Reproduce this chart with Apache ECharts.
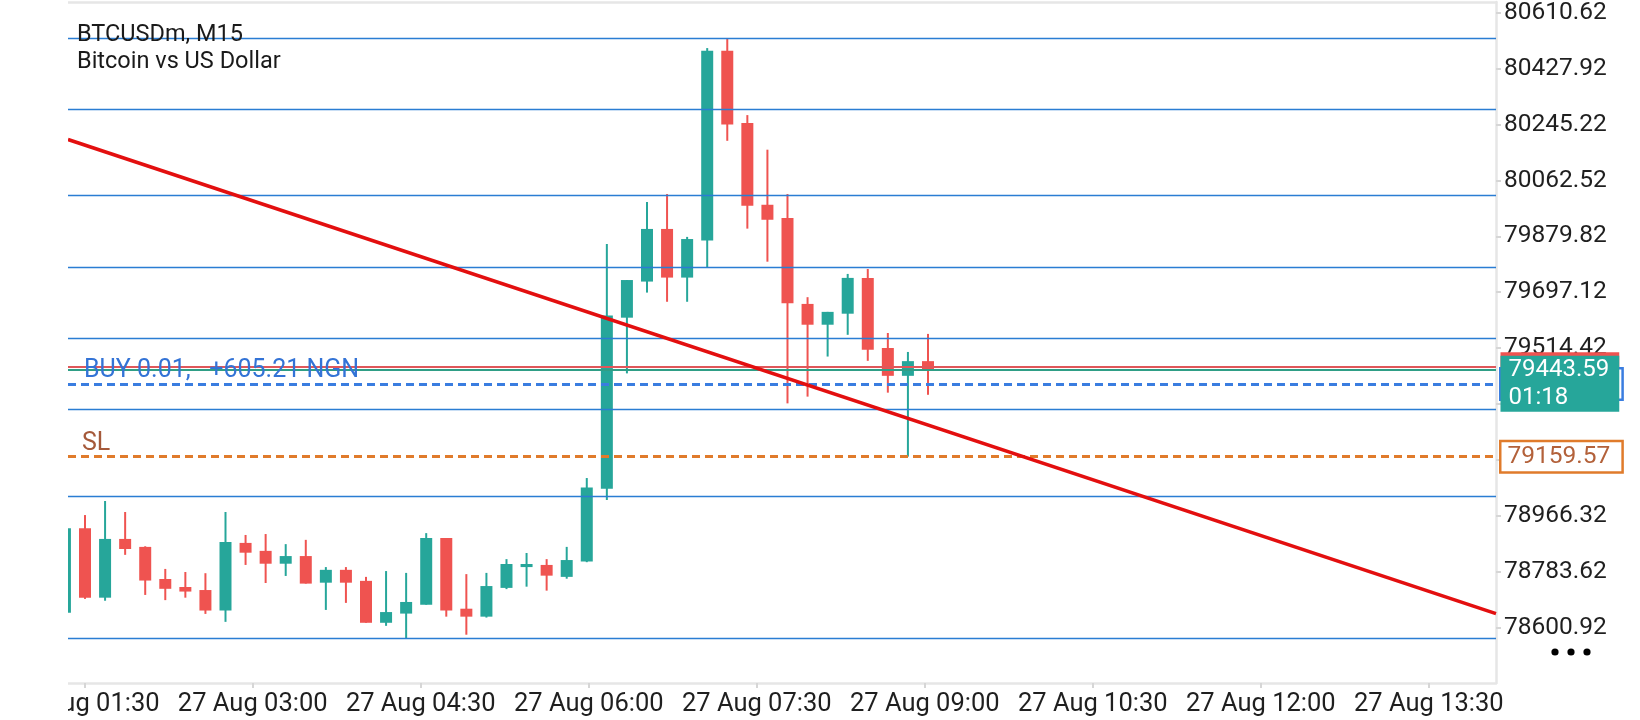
<!DOCTYPE html>
<html><head><meta charset="utf-8">
<script src="https://cdn.jsdelivr.net/npm/echarts@6/dist/echarts.min.js"></script>
<style>
html,body{margin:0;padding:0;background:#fff;overflow:hidden;width:1640px;height:720px}
#clip{position:absolute;left:68px;top:0;width:1572px;height:720px;overflow:hidden}
#chart{position:absolute;left:-68px;top:0;width:1640px;height:720px}
</style></head><body>
<div id="clip"><div id="chart"></div></div>
<script>
// ---- data ----
const symbolTitle = 'BTCUSDm, M15';
const symbolName = 'Bitcoin vs US Dollar';
const priceTicks = [78600.92, 78783.62, 78966.32, 79149.02, 79331.72, 79514.42, 79697.12, 79879.82, 80062.52, 80245.22, 80427.92, 80610.62];
const timeLabels = ['27 Aug 01:30', '27 Aug 03:00', '27 Aug 04:30', '27 Aug 06:00', '27 Aug 07:30', '27 Aug 09:00', '27 Aug 10:30', '27 Aug 12:00', '27 Aug 13:30'];
const firstCandle = -1; // bar number of the first (cut-off) candle
const candleOpen  = [78650, 78926, 78699, 78891, 78865, 78760, 78734, 78724, 78657, 78878, 78852, 78810, 78835, 78748, 78790, 78754, 78617, 78647, 78676, 78894, 78663, 78637, 78731, 78799, 78806, 78767, 78817, 79055, 79614, 79732, 79904, 79745, 79866, 80486, 80250, 79983, 79940, 79659, 79591, 79627, 79744, 79515, 79424, 79472];
const candleClose = [78926, 78699, 78891, 78858, 78755, 78728, 78719, 78657, 78881, 78846, 78810, 78835, 78745, 78790, 78748, 78617, 78652, 78685, 78894, 78657, 78637, 78737, 78809, 78809, 78771, 78822, 79059, 79621, 79737, 79904, 79745, 79871, 80486, 80245, 79980, 79934, 79661, 79591, 79633, 79744, 79509, 79424, 79472, 79443.59];
const candleLow   = [78640, 78695, 78689, 78839, 78708, 78691, 78699, 78646, 78620, 78806, 78747, 78770, 78745, 78659, 78682, 78617, 78607, 78566, 78676, 78637, 78578, 78634, 78727, 78735, 78722, 78761, 78815, 79018, 79432, 79696, 79666, 79666, 79779, 80192, 79905, 79797, 79334, 79356, 79487, 79558, 79473, 79369, 79160, 79362];
const candleHigh  = [78935, 78969, 79015, 78979, 78867, 78793, 78783, 78779, 78979, 78904, 78907, 78874, 78888, 78799, 78799, 78767, 78786, 78780, 78910, 78894, 78776, 78780, 78825, 78845, 78825, 78865, 79090, 79855, 79737, 79992, 80018, 79878, 80495, 80525, 80276, 80163, 80018, 79681, 79633, 79757, 79773, 79564, 79502, 79561];
const levelLines = [80526.9, 80295.9, 80013.9, 79778.6, 79546.6, 79314.6, 79030.3, 78566.3];
const trendBars  = [-0.847, 70.30];
const trendPrice = [80196, 78647];
const bidPrice = 79443.59;
const askPrice = 79453.80;
const entryPrice = 79397.30;
const slPrice = 79159.57;
const countdown = '01:18';
const positionText = 'BUY 0.01,   +605.21 NGN';
const slText = 'SL';

// ---- derived ----
const barMin = -0.847, barMax = 70.30;
const timeMinutes = timeLabels.map(s => { const t = s.slice(-5).split(':'); return (+t[0]) * 60 + (+t[1]); });
const candles = candleOpen.map((o, k) => [k + firstCandle, o, candleClose[k], candleLow[k], candleHigh[k]]);
const UP = '#26a69a', DOWN = '#ef5350';
const FONT = 'Roboto';

const chart = echarts.init(document.getElementById('chart'), null, {renderer: 'canvas'});
const boxLabel = (extra) => Object.assign({
  show: true, position: 'right', distance: 5, fontFamily: FONT, fontSize: 24.5,
  lineHeight: 25, padding: [2, 11, 2, 6]
}, extra);

chart.setOption({
  animation: false,
  textStyle: {fontFamily: FONT},
  title: {
    text: symbolTitle + '\n' + symbolName, left: 77, top: 21, padding: 0,
    textStyle: {fontSize: 23.5, lineHeight: 27.6, color: '#1a1a1a', fontWeight: 'normal', fontFamily: FONT}
  },
  grid: {left: 68, right: 144, top: 2, bottom: 37, containLabel: false, outerBoundsMode: 'none'},
  xAxis: [
    {type: 'value', min: barMin, max: barMax, position: 'top',
     axisLine: {show: true, onZero: false, lineStyle: {color: '#e6e6e6', width: 2.5}},
     axisTick: {show: false}, axisLabel: {show: false}, splitLine: {show: false}},
    {type: 'value', min: 81.05, max: 846.0, position: 'bottom',
     axisLine: {show: true, onZero: false, lineStyle: {color: '#e6e6e6', width: 2.5}},
     axisTick: {show: true, length: 5, customValues: timeMinutes, lineStyle: {color: '#d6d6d6', width: 2}},
     axisLabel: {show: true, customValues: timeMinutes, margin: 9, fontSize: 25.5, color: '#1f1f1f', fontFamily: FONT,
       formatter: v => { let b = 0; timeMinutes.forEach((m, k) => { if (Math.abs(m - v) < Math.abs(timeMinutes[b] - v)) b = k; }); return timeLabels[b]; }},
     splitLine: {show: false}}
  ],
  yAxis: {
    type: 'value', position: 'right', min: 78420.2, max: 80645.6, scale: true,
    axisLine: {show: true, onZero: false, lineStyle: {color: '#e6e6e6', width: 2.5}},
    axisTick: {show: true, length: 5, customValues: priceTicks, lineStyle: {color: '#d6d6d6', width: 2}},
    axisLabel: {show: true, customValues: priceTicks, margin: 8, fontSize: 24.5, color: '#1f1f1f', fontFamily: FONT,
      formatter: v => v.toFixed(2)},
    splitLine: {show: false}
  },
  series: [
    {
      type: 'custom', name: 'candles', xAxisIndex: 0, yAxisIndex: 0, clip: true, z: 2,
      encode: {x: 0, y: [1, 2, 3, 4]},
      data: candles,
      renderItem: (params, api) => {
        const x = api.value(0), o = api.value(1), c = api.value(2), l = api.value(3), h = api.value(4);
        const pO = api.coord([x, o]), pC = api.coord([x, c]), pL = api.coord([x, l]), pH = api.coord([x, h]);
        const color = c >= o ? UP : DOWN;
        const bw = 12;
        const top = Math.min(pO[1], pC[1]);
        const bh = Math.max(Math.abs(pO[1] - pC[1]), 2);
        return {type: 'group', children: [
          {type: 'rect', shape: {x: pH[0] - 1, y: pH[1], width: 2, height: pL[1] - pH[1]}, style: {fill: color}},
          {type: 'rect', shape: {x: pO[0] - bw / 2, y: top, width: bw, height: bh}, style: {fill: color}}
        ]};
      }
    },
    {
      type: 'line', name: 'trend', xAxisIndex: 0, yAxisIndex: 0, z: 4, clip: true,
      data: trendBars.map((b, k) => [b, trendPrice[k]]),
      symbol: 'none', lineStyle: {color: '#e30f0f', width: 3.6},
      markLine: {
        z: 3, silent: true, symbol: ['none', 'none'], animation: false, precision: 2,
        data: levelLines.map(v => ({yAxis: v, label: {show: false}, lineStyle: {color: '#2a7dd3', width: 1.4, type: 'solid'}}))
          .concat([
            {yAxis: askPrice, label: {show: false}, lineStyle: {color: '#e0575a', width: 2, type: 'solid'}},
            {yAxis: bidPrice, label: {show: false}, lineStyle: {color: '#2f9e86', width: 2, type: 'solid'}},
            {yAxis: entryPrice, lineStyle: {color: '#3a7de0', width: 3, type: [8, 5]},
             label: {show: true, position: 'insideStartTop', formatter: positionText, color: '#3373d6', fontSize: 25, fontFamily: FONT, distance: [16, 1]}},
            {yAxis: slPrice, lineStyle: {color: '#e07b2b', width: 3, type: [8, 5]},
             label: {show: true, position: 'insideStartTop', formatter: slText, color: '#a5593a', fontSize: 25, fontFamily: FONT, distance: [14, 0]}}
          ])
      }
    },
    {
      type: 'line', name: 'askLabel', xAxisIndex: 0, yAxisIndex: 0, data: [[barMax, askPrice]], symbol: 'none', lineStyle: {width: 0},
      markPoint: {z: 10, silent: true, animation: false, symbol: 'rect', symbolSize: 1, itemStyle: {color: 'rgba(0,0,0,0)'},
        data: [{coord: [barMax, askPrice], label: boxLabel({formatter: askPrice.toFixed(2), color: '#fff', backgroundColor: '#ef5350', fontSize: 24, distance: 4, padding: [2, 10, 2, 8]})}]}
    },
    {
      type: 'line', name: 'tradeLabels', xAxisIndex: 0, yAxisIndex: 0, data: [[barMax, slPrice]], symbol: 'none', lineStyle: {width: 0},
      markPoint: {z: 11, silent: true, animation: false, symbol: 'rect', symbolSize: 1, itemStyle: {color: 'rgba(0,0,0,0)'},
        data: [
          {coord: [barMax, entryPrice], label: boxLabel({formatter: entryPrice.toFixed(2), color: '#3a7de0', backgroundColor: '#fff', borderColor: '#3a7de0', borderWidth: 2.5})},
          {coord: [barMax, slPrice], label: boxLabel({formatter: slPrice.toFixed(2), color: '#b3613a', backgroundColor: '#fff', borderColor: '#e07b2b', borderWidth: 2.5})}
        ]}
    },
    {
      type: 'line', name: 'bidLabel', xAxisIndex: 0, yAxisIndex: 0, data: [[barMax, bidPrice]], symbol: 'none', lineStyle: {width: 0},
      markPoint: {z: 12, silent: true, animation: false, symbol: 'rect', symbolSize: 1, itemStyle: {color: 'rgba(0,0,0,0)'},
        data: [{coord: [barMax, bidPrice], label: boxLabel({formatter: bidPrice.toFixed(2) + '\n' + countdown, color: '#fff', backgroundColor: UP,
          fontSize: 24, distance: 4, lineHeight: 28, padding: [0, 10, 0, 8], offset: [0, 14]})}]}
    }
  ],
  graphic: [
    {type: 'circle', shape: {cx: 1555, cy: 652, r: 3.6}, style: {fill: '#000'}, z: 20},
    {type: 'circle', shape: {cx: 1571, cy: 652, r: 3.6}, style: {fill: '#000'}, z: 20},
    {type: 'circle', shape: {cx: 1587, cy: 652, r: 3.6}, style: {fill: '#000'}, z: 20}
  ]
});
</script>
</body></html>
